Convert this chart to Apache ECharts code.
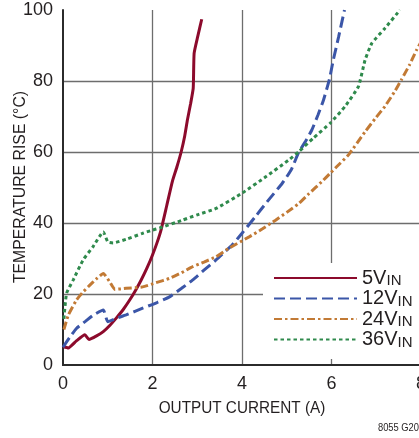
<!DOCTYPE html>
<html>
<head>
<meta charset="utf-8">
<script src="https://cdn.jsdelivr.net/npm/echarts@6/dist/echarts.min.js"></script>
<style>
  html, body { margin: 0; padding: 0; background: #fff; }
  #chart { width: 419px; height: 438px; }
</style>
</head>
<body>
<div id="chart"></div>
<script>
// Output current (A) and temperature rise (°C) per input voltage
const current5V = [0, 0.12, 0.3, 0.49, 0.58, 0.75, 0.9, 1.05, 1.19, 1.35, 1.49, 1.62, 1.75, 1.88, 2.0, 2.1, 2.19, 2.32, 2.45, 2.55, 2.64, 2.72, 2.78, 2.85, 2.91, 2.93, 3.01, 3.1];
const rise5V    = [5.2, 4.8, 6.8, 8.5, 7.2, 8.2, 9.4, 11.2, 13.2, 15.7, 18.3, 21.0, 24.0, 27.4, 31.0, 34.4, 38.0, 45.0, 52.0, 56.0, 60.0, 64.5, 69.0, 73.5, 78.0, 87.8, 92.5, 97.4];

const current12V = [0, 0.15, 0.3, 0.5, 0.67, 0.9, 1.0, 1.2, 1.41, 1.78, 2.1, 2.38, 2.65, 2.9, 3.15, 3.42, 3.6, 3.78, 4.0, 4.3, 4.53, 4.9, 5.1, 5.27, 5.42, 5.56, 5.7, 5.82, 5.95, 6.04, 6.16, 6.29];
const rise12V    = [5.0, 7.8, 10.3, 12.3, 14.0, 15.5, 12.2, 13.2, 14.1, 16.0, 17.6, 19.2, 21.6, 24.0, 26.7, 29.6, 31.7, 33.8, 37.1, 41.8, 45.5, 51.2, 55.0, 60.0, 63.0, 66.2, 70.5, 74.6, 80.3, 85.9, 92.5, 100];

const current24V = [0.02, 0.12, 0.3, 0.45, 0.6, 0.75, 0.9, 1.04, 1.16, 1.41, 1.78, 2.08, 2.38, 2.65, 2.9, 3.15, 3.42, 3.71, 4.16, 4.45, 4.75, 5.0, 5.27, 5.5, 5.78, 5.97, 6.12, 6.38, 6.75, 7.0, 7.19, 7.4, 7.56, 7.75, 7.9, 8.0];
const rise24V    = [10.0, 14.1, 18.3, 20.6, 22.5, 24.3, 25.8, 23.5, 21.3, 21.6, 22.0, 23.2, 24.4, 26.0, 27.7, 29.0, 30.5, 32.9, 36.1, 38.3, 40.8, 43.0, 45.5, 48.3, 51.6, 54.0, 55.9, 59.2, 65.7, 69.8, 72.8, 76.8, 80.3, 84.7, 88.7, 91.0];

const current36V = [0.02, 0.08, 0.23, 0.45, 0.67, 0.9, 1.0, 1.12, 1.41, 1.78, 2.0, 2.16, 2.67, 3.0, 3.42, 4.0, 4.53, 5.04, 5.27, 5.6, 5.97, 6.3, 6.6, 6.75, 6.9, 7.19, 7.53];
const rise36V    = [13.0, 20.2, 24.0, 29.6, 33.3, 37.5, 34.7, 34.4, 35.4, 37.1, 38.0, 38.6, 40.8, 42.3, 44.1, 48.4, 53.0, 57.7, 60.1, 64.0, 68.1, 72.8, 78.4, 85.9, 90.6, 94.8, 100];

const xTicks = { min: 0, max: 8, step: 2 };
const yTicks = { min: 0, max: 100, step: 20 };

const FONT = '"Liberation Sans", Arial, sans-serif';
const TEXT = '#231f20';
const GRID_LINE = '#6d6d6d';
const FRAME = '#2b2b2b';

function zip(xs, ys) { return xs.map((x, i) => [x, ys[i]]); }

const seriesDefs = [
  { name: '5V',  xs: current5V,  ys: rise5V,  color: '#8c0a2c', type: 'solid' },
  { name: '12V', xs: current12V, ys: rise12V, color: '#3b56a8', type: [11, 5] },
  { name: '24V', xs: current24V, ys: rise24V, color: '#c27a35', type: [8, 3, 2.5, 3] },
  { name: '36V', xs: current36V, ys: rise36V, color: '#2f8a4c', type: [3.5, 3] }
];

const chart = echarts.init(document.getElementById('chart'), null, { renderer: 'canvas' });

// Axis titles are set in a narrowed face (horizontal squeeze of the sans face)
const titleFont = '17px ' + FONT;

chart.setOption({
  animation: false,
  backgroundColor: '#fff',
  grid: { left: 63, top: 10, width: 358, height: 355, containLabel: false, outerBoundsMode: 'none' },
  xAxis: [{
    type: 'value', min: xTicks.min, max: xTicks.max, interval: xTicks.step,
    axisLine: { show: true, onZero: false, lineStyle: { color: FRAME, width: 2 } },
    axisTick: { show: false },
    axisLabel: { fontFamily: FONT, fontSize: 18, color: TEXT, margin: 10 },
    splitLine: { show: true, showMinLine: false, lineStyle: { color: GRID_LINE, width: 1.3 } }
  }, {
    type: 'value', position: 'top', min: xTicks.min, max: xTicks.max,
    axisLine: { show: true, lineStyle: { color: FRAME, width: 2 } },
    axisTick: { show: false }, axisLabel: { show: false }, splitLine: { show: false }
  }],
  yAxis: {
    type: 'value', min: yTicks.min, max: yTicks.max, interval: yTicks.step,
    axisLine: { show: true, onZero: false, lineStyle: { color: FRAME, width: 2 } },
    axisTick: { show: false },
    axisLabel: { fontFamily: FONT, fontSize: 18, color: TEXT, margin: 10 },
    splitLine: { show: true, showMinLine: false, showMaxLine: false, lineStyle: { color: GRID_LINE, width: 1.3 } }
  },
  legend: {
    orient: 'vertical', left: 263, top: 263,
    padding: [5, 12, 9, 10],
    backgroundColor: '#fff',
    itemWidth: 83, itemHeight: 14, itemGap: 0,
    itemStyle: { opacity: 0 },
    data: seriesDefs.map(s => s.name),
    formatter: name => '{v|' + name + '}{s|IN}',
    textStyle: {
      color: TEXT, fontFamily: FONT,
      rich: {
        v: { fontFamily: FONT, fontSize: 20, color: TEXT, lineHeight: 21 },
        s: { fontFamily: FONT, fontSize: 15, color: TEXT, lineHeight: 13, verticalAlign: 'bottom' }
      }
    }
  },
  graphic: [{
    type: 'text', x: 242, y: 408, scaleX: 0.9,
    style: { text: 'OUTPUT CURRENT (A)', font: titleFont, fill: TEXT, align: 'center', verticalAlign: 'middle' }
  }, {
    type: 'text', x: 20, y: 187, rotation: Math.PI / 2, scaleX: 0.93,
    style: { text: 'TEMPERATURE RISE (°C)', font: titleFont, fill: TEXT, align: 'center', verticalAlign: 'middle' }
  }, {
    type: 'text', x: 419, y: 428, scaleX: 0.85,
    style: { text: '8055 G20', font: '11px ' + FONT, fill: TEXT, align: 'right', verticalAlign: 'middle' }
  }],
  series: seriesDefs.map(s => ({
    name: s.name, type: 'line', xAxisIndex: 0,
    data: zip(s.xs, s.ys),
    symbol: 'none', showSymbol: false, smooth: 0.15,
    lineStyle: { color: s.color, width: 3, type: s.type, cap: 'butt' },
    itemStyle: { color: s.color },
    clip: true
  }))
});
</script>
</body>
</html>
